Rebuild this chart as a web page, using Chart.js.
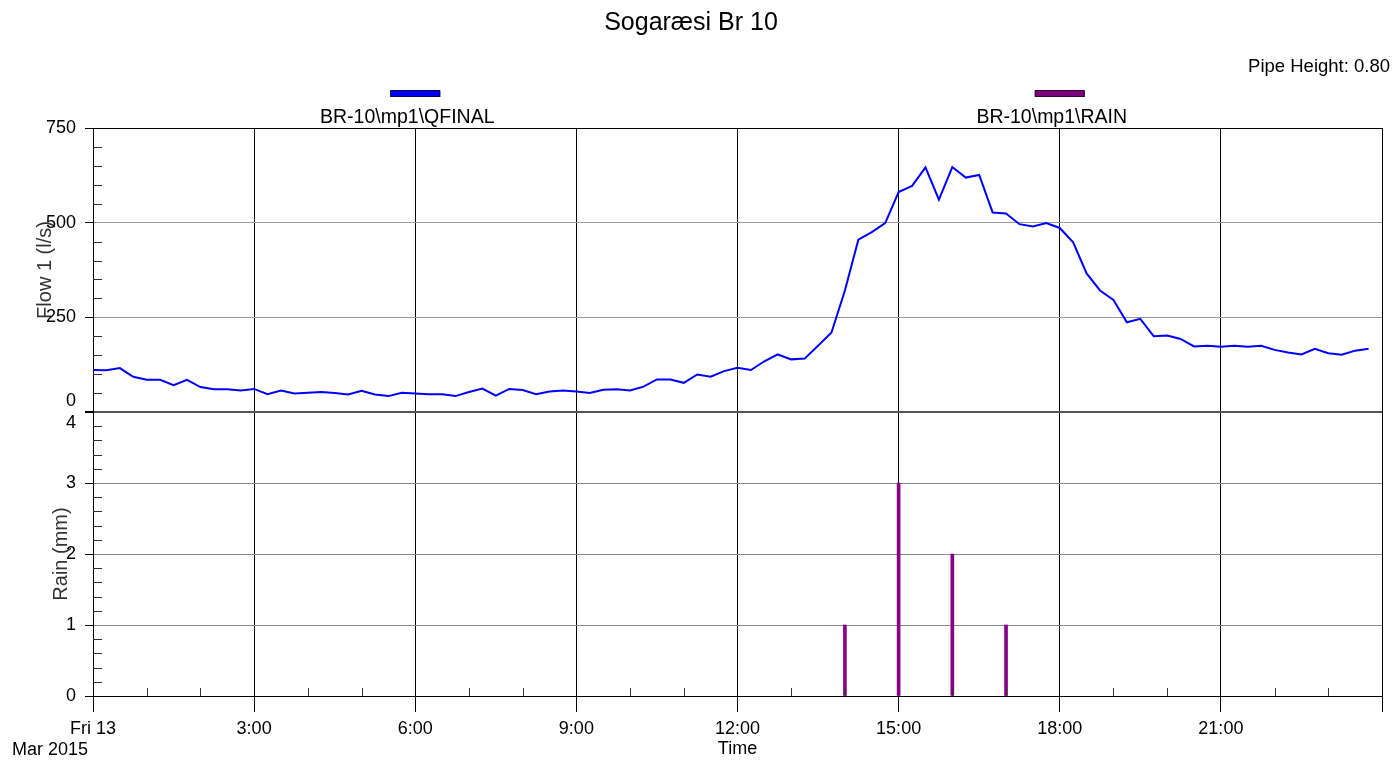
<!DOCTYPE html>
<html>
<head>
<meta charset="utf-8">
<title>Sogaræsi Br 10</title>
<script src="https://cdn.jsdelivr.net/npm/chart.js@4.4.1/dist/chart.umd.min.js"></script>
<style>
  html, body { margin: 0; padding: 0; background: #fff; }
  canvas { display: block; }
</style>
</head>
<body>
<canvas id="flow-chart" width="1397" height="760"></canvas>
<script>
const chartTitle = 'Sogaræsi Br 10';
const pipeHeightNote = 'Pipe Height: 0.80';
const dateLabel = 'Mar 2015';
const flowLabel = 'BR-10\\mp1\\QFINAL';
const rainLabel = 'BR-10\\mp1\\RAIN';

// flow samples every 15 min, starting Fri 13 Mar 2015 00:00
const sampleMinutes = 15;
const flowValues = [
  111, 110, 116, 93, 85, 85, 71, 85, 66, 60, 60, 57,
  61, 47, 57, 49, 51, 53, 50, 46, 56, 46, 42, 51,
  49, 47, 47, 42, 53, 62, 43, 61, 58, 47, 54, 57,
  54, 50, 59, 60, 57, 67, 86, 86, 77, 99, 93, 108,
  117, 111, 134, 152, 139, 141, 175, 210, 321, 455, 475, 499,
  581, 597, 646, 561, 647, 619, 626, 527, 524, 496, 490, 499,
  486, 448, 366, 321, 296, 237, 246, 200, 202, 193, 173, 175,
  172, 175, 172, 175, 164, 157, 152, 167, 155, 151, 162, 167,
];

// rain totals per hour (hour of day, mm)
const rainHours = [14, 15, 16, 17];
const rainValues = [1, 3, 2, 1];

const timeTickLabels = ['Fri 13', '3:00', '6:00', '9:00', '12:00', '15:00', '18:00', '21:00'];

const fontFamily = "'Liberation Sans', Arial, sans-serif";
Chart.defaults.font.family = fontFamily;
Chart.defaults.color = '#000';

const flowPoints = flowValues.map((value, i) => ({ x: (i * sampleMinutes) / 60, y: value }));
const rainPoints = rainHours.map((hour, i) => ({ x: hour, y: rainValues[i] }));

// small inward ticks, like the original plot
const minorTicks = {
  id: 'minorTicks',
  afterDraw(chart) {
    const { ctx, chartArea, scales } = chart;
    ctx.save();
    ctx.strokeStyle = '#333';
    ctx.lineWidth = 1;
    ctx.beginPath();
    for (let v = 50; v < 750; v += 50) {
      if (v % 250 === 0) continue;
      const y = Math.round(scales.flow.getPixelForValue(v)) + 0.5;
      ctx.moveTo(chartArea.left, y);
      ctx.lineTo(chartArea.left + 9, y);
    }
    for (let k = 1; k < 20; k++) {
      if (k % 5 === 0) continue;
      const y = Math.round(scales.rain.getPixelForValue(k / 5)) + 0.5;
      ctx.moveTo(chartArea.left, y);
      ctx.lineTo(chartArea.left + 9, y);
    }
    for (let h = 1; h < 24; h++) {
      if (h % 3 === 0) continue;
      const x = Math.round(scales.x.getPixelForValue(h)) + 0.5;
      ctx.moveTo(x, chartArea.bottom);
      ctx.lineTo(x, chartArea.bottom - 8);
    }
    ctx.stroke();
    ctx.restore();
  },
};

// legend in two columns, pipe note and date under the first tick
const headerNotes = {
  id: 'headerNotes',
  afterDraw(chart) {
    const { ctx, chartArea, scales } = chart;
    ctx.save();
    ctx.textBaseline = 'middle';

    ctx.font = `18.5px ${fontFamily}`;
    ctx.fillStyle = '#000';
    ctx.textAlign = 'right';
    ctx.fillText(pipeHeightNote, chart.width - 7, 67);

    chart.data.datasets.forEach((ds, i) => {
      const cx = chartArea.left + chartArea.width * (0.25 + 0.5 * i);
      ctx.fillStyle = ds.swatch;
      ctx.fillRect(cx - 25, 91, 50, 6);
      ctx.strokeStyle = ds.swatchEdge;
      ctx.lineWidth = 1;
      ctx.strokeRect(cx - 24.5, 90.5, 49, 6);
      ctx.fillStyle = '#000';
      ctx.textAlign = 'center';
      ctx.font = `19.5px ${fontFamily}`;
      ctx.fillText(ds.label, cx - 8, 118);
    });

    ctx.font = `18px ${fontFamily}`;
    ctx.textAlign = 'right';
    ctx.fillText(dateLabel, scales.x.getPixelForValue(0) - 5, scales.x.bottom - 10);
    ctx.restore();
  },
};

const yTickFont = { size: 18 };

new Chart(document.getElementById('flow-chart'), {
  type: 'line',
  data: {
    datasets: [
      {
        label: flowLabel,
        data: flowPoints,
        yAxisID: 'flow',
        borderColor: '#0000ff',
        borderWidth: 2,
        pointRadius: 0,
        tension: 0,
        swatch: '#0000ee',
        swatchEdge: '#000066',
      },
      {
        type: 'bar',
        label: rainLabel,
        data: rainPoints,
        yAxisID: 'rain',
        backgroundColor: '#880088',
        borderWidth: 0,
        barThickness: 3,
        swatch: '#7a007a',
        swatchEdge: '#3a003a',
      },
    ],
  },
  options: {
    responsive: false,
    animation: false,
    devicePixelRatio: 1,
    layout: { padding: { left: 0, right: 15, top: 0, bottom: 0 } },
    plugins: {
      legend: { display: false },
      tooltip: { enabled: false },
      title: {
        display: true,
        text: chartTitle,
        color: '#000',
        font: { size: 25, weight: 'normal' },
        padding: { top: 8, bottom: 90 },
      },
    },
    scales: {
      x: {
        type: 'linear',
        min: 0,
        max: 24,
        offset: false,
        afterFit: (scale) => { scale.height = 64; },
        ticks: {
          stepSize: 3,
          autoSkip: false,
          maxRotation: 0,
          padding: 6,
          font: { size: 18 },
          callback: (value) => timeTickLabels[value / 3] ?? '',
        },
        grid: { color: '#000', tickLength: 16, offset: false },
        border: { color: '#000' },
        title: { display: true, text: 'Time', font: { size: 18 }, padding: { top: 0, bottom: 0 } },
      },
      rain: {
        type: 'linear',
        position: 'left',
        stack: 'panels',
        stackWeight: 1,
        min: 0,
        max: 4,
        afterFit: (scale) => { scale.width = 93; },
        ticks: {
          stepSize: 1,
          padding: 9,
          font: yTickFont,
          callback: (value) => (value === 4 ? ['', '4'] : String(value)),
        },
        grid: {
          color: (ctx) => (ctx.tick.value === 4 ? '#555' : '#888'),
          tickColor: '#000',
          tickLength: 8,
        },
        border: { color: '#000' },
        title: { display: true, text: 'Rain (mm)', color: '#333', font: { size: 20 }, padding: { top: 49 } },
      },
      flow: {
        type: 'linear',
        position: 'left',
        stack: 'panels',
        stackWeight: 1,
        min: 0,
        max: 750,
        afterFit: (scale) => { scale.width = 93; },
        ticks: {
          stepSize: 250,
          padding: 9,
          font: yTickFont,
          callback: (value) => (value === 0 ? ['0', ''] : String(value)),
        },
        grid: {
          color: (ctx) => (ctx.tick.value === 750 ? '#000' : ctx.tick.value === 0 ? '#555' : '#999'),
          lineWidth: (ctx) => (ctx.tick.value === 0 ? 2 : 1),
          tickColor: '#000',
          tickLength: 8,
        },
        border: { color: '#000' },
        title: { display: true, text: 'Flow 1 (l/s)', color: '#333', font: { size: 20 }, padding: { top: 33 } },
      },
    },
  },
  plugins: [minorTicks, headerNotes],
});
</script>
</body>
</html>
